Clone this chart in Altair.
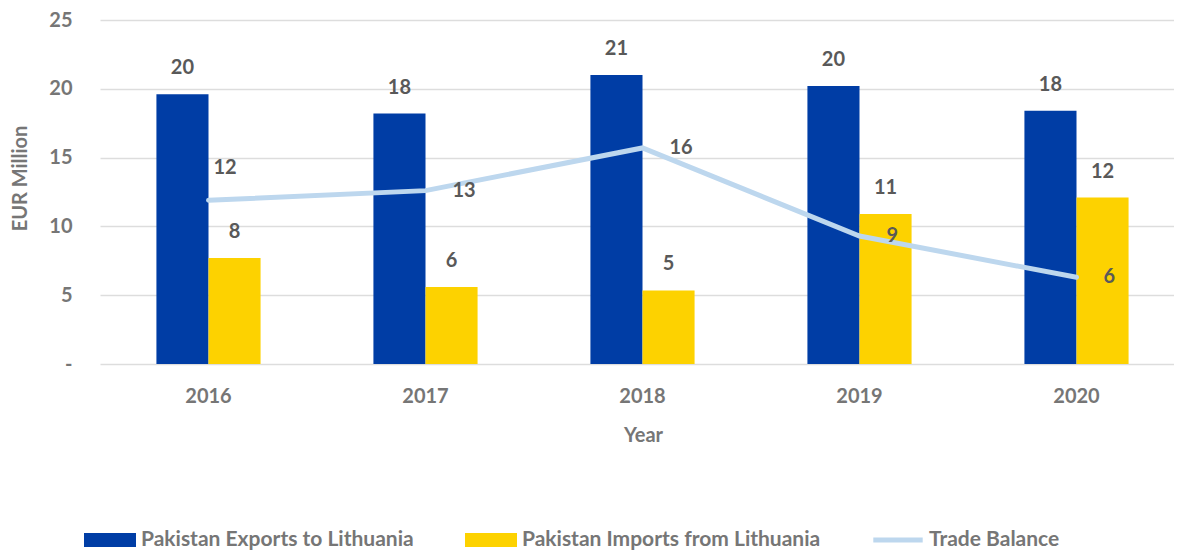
import altair as alt
import pandas as pd

years = ["2016", "2017", "2018", "2019", "2020"]
exports = [19.6, 18.2, 21.0, 20.2, 18.4]
imports = [7.7, 5.6, 5.35, 10.9, 12.1]
balance = [11.9, 12.6, 15.7, 9.3, 6.3]

s_exp = "Pakistan Exports to Lithuania"
s_imp = "Pakistan Imports from Lithuania"
s_bal = "Trade Balance"
series = [s_exp, s_imp, s_bal]
colors = ["#003DA5", "#FDD200", "#BDD7EE"]

bars_df = pd.DataFrame(
    [{"year": y, "series": s_exp, "value": v} for y, v in zip(years, exports)]
    + [{"year": y, "series": s_imp, "value": v} for y, v in zip(years, imports)]
)
bal_df = pd.DataFrame({"year": years, "series": s_bal, "value": balance})
leg_df = pd.concat([bars_df, bal_df], ignore_index=True)

FONT = "Lato"
AX = "#767676"
LB = "#595959"

xscale = alt.Scale(domain=years, range=[0, 1085], paddingInner=0.52, paddingOuter=0.26)
yscale = alt.Scale(domain=[0, 25], nice=False)

x_enc = alt.X(
    "year:N", scale=xscale, title="Year",
    axis=alt.Axis(labelAngle=0, ticks=False, domain=False, labelPadding=22,
                  labelFont=FONT, labelFontSize=20, labelFontWeight="bold", labelColor=AX,
                  titleFont=FONT, titleFontSize=20, titleFontWeight="bold", titleColor=AX,
                  titleX=543, titleY=71, titleBaseline="middle", grid=False),
)
y_enc = alt.Y(
    "value:Q", scale=yscale, title="EUR Million",
    axis=alt.Axis(values=[0, 5, 10, 15, 20, 25], ticks=False, domain=False, labelPadding=28,
                  labelExpr="datum.value == 0 ? '-' : datum.label",
                  labelFont=FONT, labelFontSize=20, labelFontWeight="bold", labelColor=AX,
                  titleFont=FONT, titleFontSize=20, titleFontWeight="bold", titleColor=AX,
                  titleX=-80, titleY=158, titleBaseline="middle", titleAngle=-90,
                  grid=True, gridColor="#DDDDDD", gridWidth=1.5),
)

color_scale = alt.Scale(domain=series, range=colors)
rect_path = "M-1,-0.27H1V0.27H-1Z"
line_path = "M-0.95,-0.1H0.95V0.1H-0.95Z"
shape_scale = alt.Scale(domain=series, range=[rect_path, rect_path, line_path])

legend = alt.Legend(
    orient="none", legendX=-16, legendY=494, direction="horizontal", title=None,
    labelFont=FONT, labelFontSize=21, labelFontWeight="bold", labelColor=AX,
    symbolSize=2704, symbolOpacity=1, symbolStrokeWidth=0, columnPadding=51,
    labelOffset=5, labelLimit=500,
)

legend_layer = alt.Chart(leg_df).mark_point(filled=True, opacity=0).encode(
    x=x_enc, y=y_enc,
    color=alt.Color("series:N", scale=color_scale, legend=legend),
    shape=alt.Shape("series:N", scale=shape_scale, legend=legend),
)

xoff = alt.XOffset("series:N", scale=alt.Scale(domain=[s_exp, s_imp], paddingInner=0, paddingOuter=0))

bars = alt.Chart(bars_df).mark_bar().encode(
    x=x_enc, y=y_enc, xOffset=xoff,
    color=alt.Color("series:N", scale=color_scale, legend=None),
)

bar_labels = alt.Chart(bars_df).mark_text(
    baseline="bottom", dy=-16, font=FONT, fontSize=20, fontWeight="bold", color=LB
).encode(
    x=x_enc, y=y_enc, xOffset=xoff,
    text=alt.Text("value:Q", format=".0f"),
)

line = alt.Chart(bal_df).mark_line(color="#BDD7EE", strokeWidth=5, strokeCap="round").encode(
    x=x_enc, y=y_enc
)

bal_labels = alt.Chart(bal_df).transform_filter("datum.year != '2016'").mark_text(
    align="left", baseline="middle", dx=27, font=FONT, fontSize=20, fontWeight="bold", color=LB
).encode(x=x_enc, y=y_enc, text=alt.Text("value:Q", format=".0f"))

bal_label_first = alt.Chart(bal_df).transform_filter("datum.year == '2016'").mark_text(
    align="left", baseline="middle", dx=5, dy=-32, font=FONT, fontSize=20, fontWeight="bold", color=LB
).encode(x=x_enc, y=y_enc, text=alt.Text("value:Q", format=".0f"))

chart = alt.layer(
    legend_layer, bars, line, bar_labels, bal_labels, bal_label_first
).properties(
    width=1074, height=344,
    autosize=alt.AutoSizeParams(type="none"),
    padding={"left": 92, "top": 12, "right": 0, "bottom": 186},
).configure_view(stroke=None)

chart.save("out.html", embed_options={"renderer": "svg", "actions": False})
